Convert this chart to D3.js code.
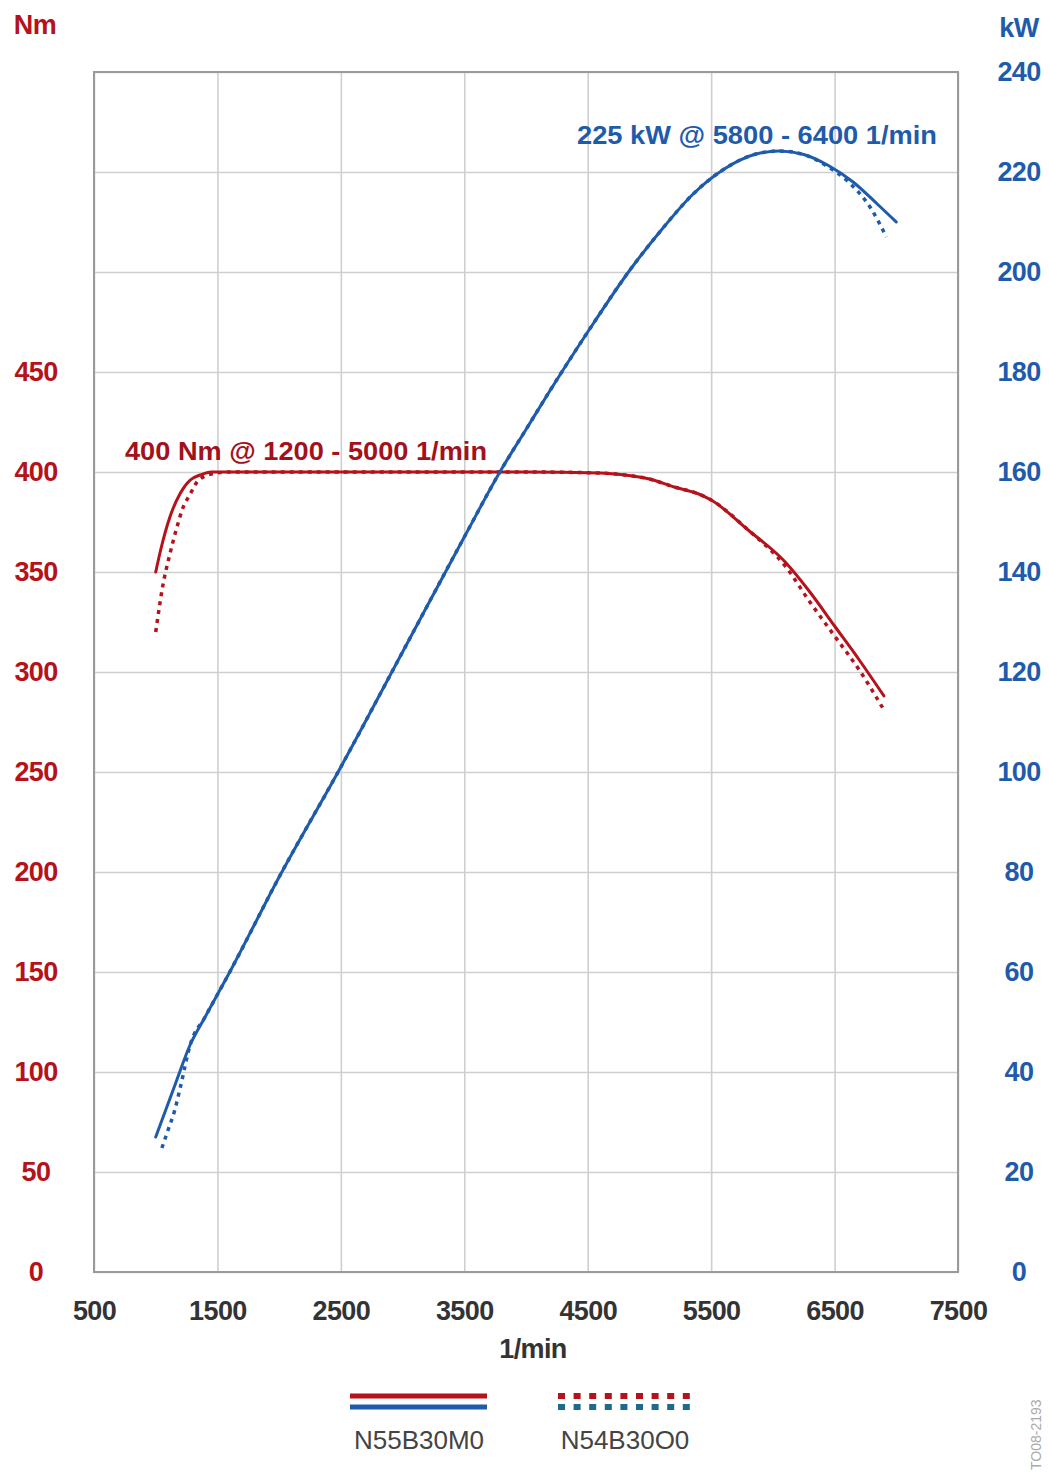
<!DOCTYPE html>
<html>
<head>
<meta charset="utf-8">
<script src="https://cdn.jsdelivr.net/npm/d3@7"></script>
<style>
  body { margin: 0; background: #fff; }
  text { font-family: "Liberation Sans", Arial, sans-serif; }
</style>
</head>
<body>
<div id="chart"></div>
<script>
// ---- data ----
var rpmTicks = [500, 1500, 2500, 3500, 4500, 5500, 6500, 7500];
var nmTicks = [0, 50, 100, 150, 200, 250, 300, 350, 400, 450];
var kwTicks = [0, 20, 40, 60, 80, 100, 120, 140, 160, 180, 200, 220, 240];

var torqueRpmN55 = [1000, 1040, 1115, 1200, 1280, 1360, 1450, 1600, 2000, 3000, 4000, 4600, 4800, 5000, 5200, 5400, 5500, 5800, 6100, 6300, 6500, 6700, 6900];
var torqueN55    = [350, 361, 377.5, 389.5, 396, 398.5, 400, 400, 400, 400, 400, 399.5, 398.5, 396.5, 392.5, 389, 386, 371, 355, 340, 323, 306, 288];

var torqueRpmN54 = [1000, 1060, 1115, 1170, 1220, 1280, 1335, 1450, 1600, 2000, 3000, 4000, 4600, 4800, 5000, 5200, 5400, 5500, 5800, 6100, 6300, 6500, 6700, 6900];
var torqueN54    = [320, 344, 359, 372, 382, 389, 395, 399, 400, 400, 400, 400, 399.5, 398.5, 396.5, 392.5, 389, 386, 371, 353, 335, 318, 301, 281];

var powerRpmN55 = [1000, 1150, 1280, 1400, 1600, 2000, 2500, 3000, 3500, 3800, 4000, 4200, 4500, 4860, 5100, 5350, 5600, 5850, 6050, 6250, 6450, 6650, 6850, 7000];
var powerN55    = [27, 37, 45.5, 51, 60, 79, 101, 124, 147, 160.5, 168.5, 176.5, 188, 201, 208.5, 215.5, 220.5, 223.5, 224.2, 223.5, 221.3, 218, 213.5, 210];

var powerRpmN54 = [1050, 1100, 1150, 1200, 1280, 1400, 1600, 2000, 2500, 3000, 3500, 3800, 4000, 4200, 4500, 4860, 5100, 5350, 5600, 5850, 6050, 6250, 6450, 6600, 6800, 6920];
var powerN54    = [24.8, 28.4, 32, 37, 45.5, 51, 60, 79, 101, 124, 147, 160.5, 168.5, 176.5, 188, 201, 208.5, 215.5, 220.5, 223.5, 224.2, 223.5, 221, 218.3, 212.5, 207];

var torqueNote = "400 Nm @ 1200 - 5000 1/min";
var powerNote = "225 kW @ 5800 - 6400 1/min";
var legendNames = ["N55B30M0", "N54B30O0"];

var red = "#b5121b", darkRed = "#a3111c", blue = "#1f5bab", grey = "#333";

var W = 1049, H = 1474;
var margin = {top: 72, right: 91, bottom: 202, left: 94},
    width = W - margin.left - margin.right,
    height = H - margin.top - margin.bottom;

var svg = d3.select("#chart").append("svg")
    .attr("width", W).attr("height", H);

var g = svg.append("g")
    .attr("transform", "translate(" + margin.left + "," + margin.top + ")");

var x = d3.scaleLinear().domain([500, 7500]).range([0, width]);
var yNm = d3.scaleLinear().domain([0, 600]).range([height, 0]);
var yKw = d3.scaleLinear().domain([0, 240]).range([height, 0]);

// grid
g.append("g").attr("class", "grid-x")
    .attr("transform", "translate(0," + height + ")")
    .call(d3.axisBottom(x).tickValues(rpmTicks).tickSize(-height).tickFormat(""))
    .call(s => s.select(".domain").remove())
    .selectAll("line").attr("stroke", "#cfcfcf").attr("stroke-width", 1.6);

g.append("g").attr("class", "grid-y")
    .call(d3.axisLeft(yKw).tickValues(kwTicks).tickSize(-width).tickFormat(""))
    .call(s => s.select(".domain").remove())
    .selectAll("line").attr("stroke", "#cfcfcf").attr("stroke-width", 1.6);

g.append("rect")
    .attr("width", width).attr("height", height)
    .attr("fill", "none").attr("stroke", "#9a9a9a").attr("stroke-width", 2);

// axes labels
var xAxis = g.append("g")
    .attr("transform", "translate(0," + height + ")")
    .call(d3.axisBottom(x).tickValues(rpmTicks).tickSize(0).tickPadding(49).tickFormat(d3.format("d")));
xAxis.select(".domain").remove();
xAxis.selectAll("text").attr("fill", grey).attr("font-size", 27).attr("font-weight", "bold")
    .attr("font-family", "Liberation Sans, Arial, sans-serif").attr("letter-spacing", -0.6).attr("dy", "-0.05em");

var leftAxis = g.append("g")
    .call(d3.axisLeft(yNm).tickValues(nmTicks).tickSize(0).tickPadding(0));
leftAxis.select(".domain").remove();
leftAxis.selectAll("text").attr("fill", red).attr("font-size", 27).attr("font-weight", "bold")
    .attr("font-family", "Liberation Sans, Arial, sans-serif").attr("letter-spacing", -0.6)
    .attr("text-anchor", "middle").attr("x", -58);

var rightAxis = g.append("g")
    .attr("transform", "translate(" + width + ",0)")
    .call(d3.axisRight(yKw).tickValues(kwTicks).tickSize(0).tickPadding(0));
rightAxis.select(".domain").remove();
rightAxis.selectAll("text").attr("fill", blue).attr("font-size", 27).attr("font-weight", "bold")
    .attr("font-family", "Liberation Sans, Arial, sans-serif").attr("letter-spacing", -0.6)
    .attr("text-anchor", "middle").attr("x", 61);

svg.append("text").attr("x", 35).attr("y", 34).attr("text-anchor", "middle")
    .attr("fill", red).attr("font-size", 27).attr("font-weight", "bold").attr("letter-spacing", -0.6).text("Nm");
svg.append("text").attr("x", 1019).attr("y", 37).attr("text-anchor", "middle")
    .attr("fill", blue).attr("font-size", 27).attr("font-weight", "bold").attr("letter-spacing", -0.6).text("kW");
svg.append("text").attr("x", 533).attr("y", 1358).attr("text-anchor", "middle")
    .attr("fill", grey).attr("font-size", 27).attr("font-weight", "bold").attr("letter-spacing", -0.6).text("1/min");

// curves
function zip(a, b) { return a.map((v, i) => [v, b[i]]); }
var lineNm = d3.line().x(d => x(d[0])).y(d => yNm(d[1])).curve(d3.curveMonotoneX);
var lineKw = d3.line().x(d => x(d[0])).y(d => yKw(d[1])).curve(d3.curveMonotoneX);

g.append("path").datum(zip(torqueRpmN54, torqueN54))
    .attr("d", lineNm).attr("fill", "none").attr("stroke", red)
    .attr("stroke-width", 3.5).attr("stroke-dasharray", "4,5");
g.append("path").datum(zip(powerRpmN54, powerN54))
    .attr("d", lineKw).attr("fill", "none").attr("stroke", blue)
    .attr("stroke-width", 3.5).attr("stroke-dasharray", "4,5");
g.append("path").datum(zip(torqueRpmN55, torqueN55))
    .attr("d", lineNm).attr("fill", "none").attr("stroke", red)
    .attr("stroke-width", 3).attr("stroke-linecap", "round");
g.append("path").datum(zip(powerRpmN55, powerN55))
    .attr("d", lineKw).attr("fill", "none").attr("stroke", blue)
    .attr("stroke-width", 3).attr("stroke-linecap", "round");

// notes
svg.append("text").attr("x", 125).attr("y", 460)
    .attr("fill", darkRed).attr("font-size", 25).attr("font-weight", "bold")
    .attr("textLength", 362).attr("lengthAdjust", "spacingAndGlyphs").text(torqueNote);
svg.append("text").attr("x", 577).attr("y", 144)
    .attr("fill", blue).attr("font-size", 25).attr("font-weight", "bold")
    .attr("textLength", 360).attr("lengthAdjust", "spacingAndGlyphs").text(powerNote);

// legend
var leg = svg.append("g");
leg.append("line").attr("x1", 350).attr("x2", 487).attr("y1", 1396).attr("y2", 1396)
    .attr("stroke", red).attr("stroke-width", 5);
leg.append("line").attr("x1", 350).attr("x2", 487).attr("y1", 1407).attr("y2", 1407)
    .attr("stroke", blue).attr("stroke-width", 5);
leg.append("line").attr("x1", 558).attr("x2", 690).attr("y1", 1396).attr("y2", 1396)
    .attr("stroke", red).attr("stroke-width", 6).attr("stroke-dasharray", "7,8.6");
leg.append("line").attr("x1", 558).attr("x2", 690).attr("y1", 1407).attr("y2", 1407)
    .attr("stroke", "#1c6a8c").attr("stroke-width", 6).attr("stroke-dasharray", "7,8.6");
leg.append("text").attr("x", 419).attr("y", 1449).attr("text-anchor", "middle")
    .attr("fill", "#444").attr("font-size", 26).text(legendNames[0]);
leg.append("text").attr("x", 625).attr("y", 1449).attr("text-anchor", "middle")
    .attr("fill", "#444").attr("font-size", 26).text(legendNames[1]);

svg.append("text").attr("transform", "translate(1041,1470) rotate(-90)")
    .attr("fill", "#aaa").attr("font-size", 14).text("TO08-2193");
</script>
</body>
</html>
